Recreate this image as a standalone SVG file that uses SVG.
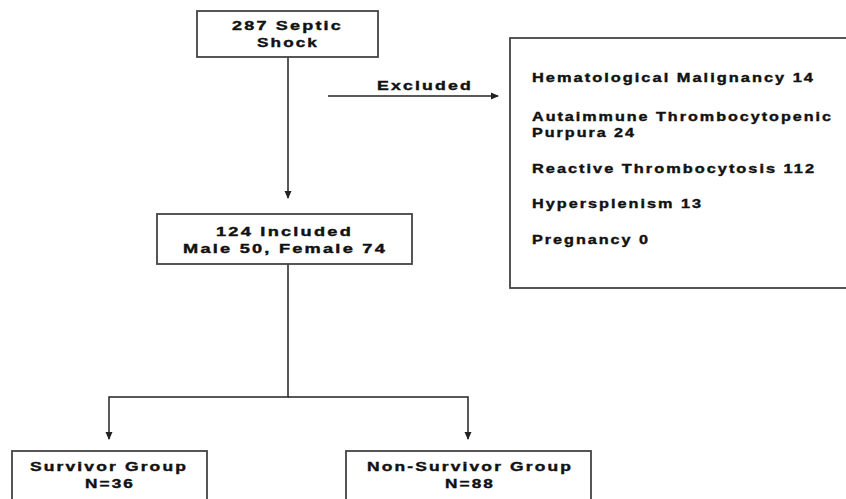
<svg xmlns="http://www.w3.org/2000/svg" width="846" height="499" viewBox="0 0 846 499">
<style>
.box{fill:#fff;stroke:#444;stroke-width:1.8}
.t{font-family:"Liberation Sans",Arial,sans-serif;font-weight:bold;font-size:13px;fill:#111;stroke:#111;stroke-width:0.4;letter-spacing:1.6px}
.c{text-anchor:middle}
.ln{fill:none;stroke:#222;stroke-width:1.5}
</style>
<defs>
<marker id="ah" markerWidth="8" markerHeight="8" refX="7" refY="4" orient="auto" markerUnits="userSpaceOnUse">
<path d="M0,0.5 L8,4 L0,7.5 Z" fill="#222"/>
</marker>
</defs>
<rect width="846" height="499" fill="#fff"/>
<g id="connectors">
<line class="ln" x1="288" y1="57" x2="288" y2="198" marker-end="url(#ah)"/>
<line class="ln" x1="328" y1="96" x2="498" y2="96" marker-end="url(#ah)"/>
<text class="t" x="377" y="90" textLength="96" lengthAdjust="spacingAndGlyphs">Excluded</text>
<polyline class="ln" points="288,264 288,397 109,397 109,439" marker-end="url(#ah)"/>
<polyline class="ln" points="288,397 468,397 468,439" marker-end="url(#ah)"/>
</g>
<g id="septic">
<rect class="box" x="197" y="11" width="181" height="46"/>
<text class="t" x="232" y="30" textLength="111" lengthAdjust="spacingAndGlyphs">287 Septic</text>
<text class="t c" x="288" y="47" textLength="62" lengthAdjust="spacingAndGlyphs">Shock</text>
</g>
<g id="excluded">
<rect class="box" x="510" y="38" width="345" height="250"/>
<text class="t" x="532" y="82" textLength="283" lengthAdjust="spacingAndGlyphs">Hematological Malignancy 14</text>
<text class="t" x="532" y="121" textLength="301" lengthAdjust="spacingAndGlyphs">Autaimmune Thrombocytopenic</text>
<text class="t" x="532" y="137" textLength="104" lengthAdjust="spacingAndGlyphs">Purpura 24</text>
<text class="t" x="532" y="173" textLength="284" lengthAdjust="spacingAndGlyphs">Reactive Thrombocytosis 112</text>
<text class="t" x="532" y="208" textLength="171" lengthAdjust="spacingAndGlyphs">Hypersplenism 13</text>
<text class="t" x="532" y="244" textLength="118" lengthAdjust="spacingAndGlyphs">Pregnancy 0</text>
</g>
<g id="included">
<rect class="box" x="157" y="214" width="255" height="50"/>
<text class="t" x="216" y="236" textLength="137" lengthAdjust="spacingAndGlyphs">124 Included</text>
<text class="t" x="183" y="253" textLength="204" lengthAdjust="spacingAndGlyphs">Male 50, Female 74</text>
</g>
<g id="survivor">
<rect class="box" x="12" y="451" width="195" height="60"/>
<text class="t" x="30" y="471" textLength="158" lengthAdjust="spacingAndGlyphs">Survivor Group</text>
<text class="t c" x="110" y="488" textLength="50" lengthAdjust="spacingAndGlyphs">N=36</text>
</g>
<g id="nonsurvivor">
<rect class="box" x="346" y="451" width="245" height="60"/>
<text class="t" x="367" y="471" textLength="206" lengthAdjust="spacingAndGlyphs">Non-Survivor Group</text>
<text class="t c" x="470" y="488" textLength="50" lengthAdjust="spacingAndGlyphs">N=88</text>
</g>
</svg>
